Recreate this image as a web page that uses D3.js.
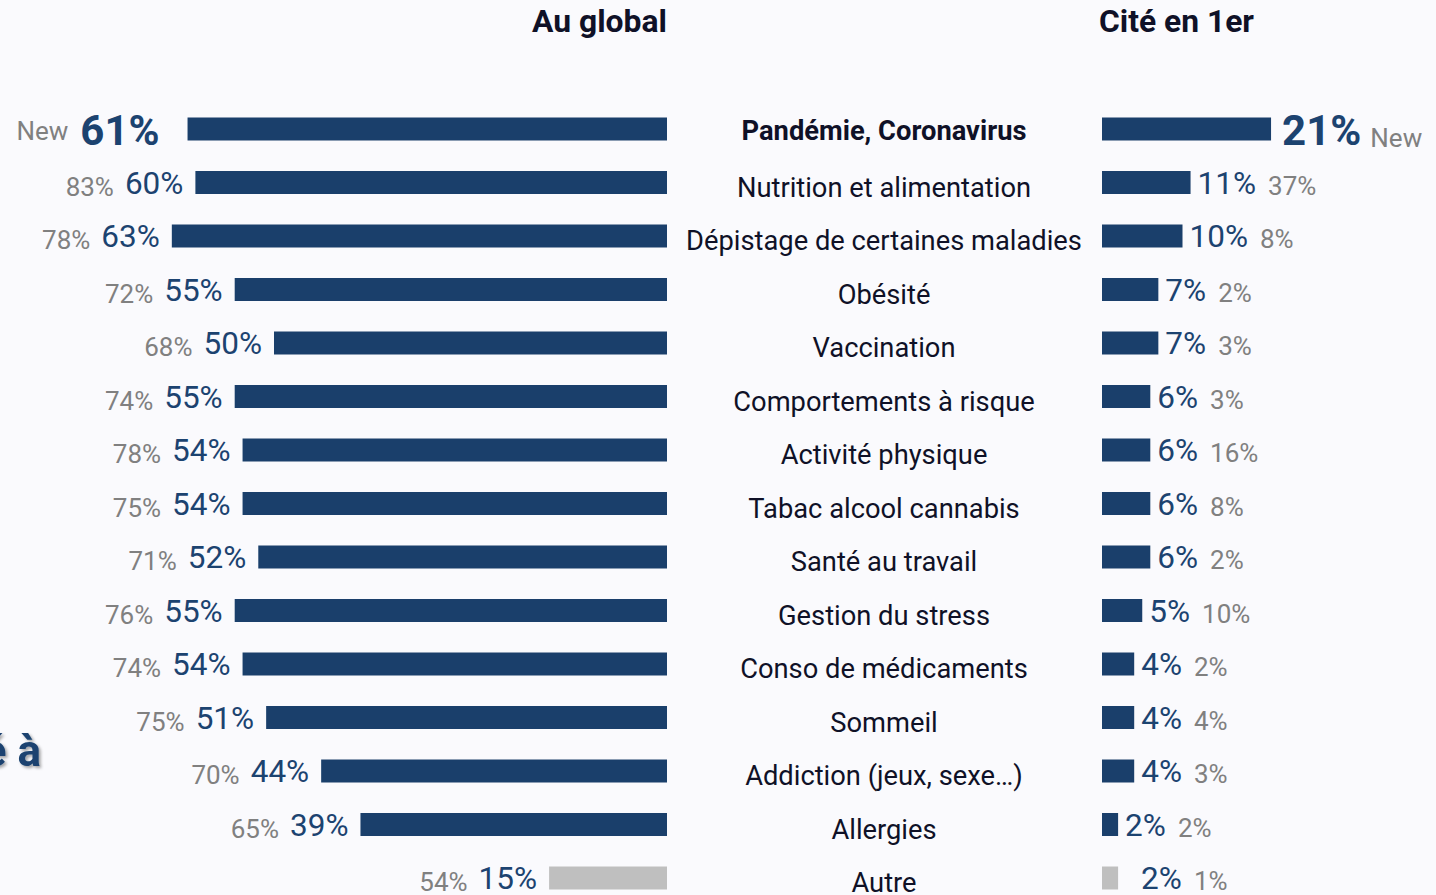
<!DOCTYPE html>
<html>
<head>
<meta charset="utf-8">
<script src="https://cdn.jsdelivr.net/npm/d3@7"></script>
<style>
  html, body { margin: 0; padding: 0; background: #fafafd; }
  svg { display: block; font-family: Roboto, "Noto Sans", sans-serif; }
</style>
</head>
<body>
<svg id="chart" width="1436" height="895"></svg>
<script>
const categories = [
  "Pandémie, Coronavirus", "Nutrition et alimentation", "Dépistage de certaines maladies",
  "Obésité", "Vaccination", "Comportements à risque", "Activité physique",
  "Tabac alcool cannabis", "Santé au travail", "Gestion du stress",
  "Conso de médicaments", "Sommeil", "Addiction (jeux, sexe…)", "Allergies", "Autre"
];
const globalValues = [61, 60, 63, 55, 50, 55, 54, 54, 52, 55, 54, 51, 44, 39, 15];
const globalPrevious = [null, 83, 78, 72, 68, 74, 78, 75, 71, 76, 74, 75, 70, 65, 54];
const firstValues = [21, 11, 10, 7, 7, 6, 6, 6, 6, 5, 4, 4, 4, 2, 2];
const firstPrevious = [null, 37, 8, 2, 3, 3, 16, 8, 2, 10, 2, 4, 3, 2, 1];
const newLabel = "New";
const titles = ["Au global", "Cité en 1er"];

const navy = "#1a3f6b";
const navyText = "#1c4370";
const grey = "#808080";
const otherBar = "#bfbfbf";
const dark = "#0f1127";

const svg = d3.select("#chart");

const y = d3.scalePoint().domain(categories).range([129, 878]);
const xLeft = d3.scaleLinear().domain([0, 100]).range([667, 667 - 786]);
const xRight = d3.scaleLinear().domain([0, 100]).range([1102, 1102 + 805]);
const barH = 23;
const isOther = (d) => d === "Autre";

// Cropped title fragment at left edge
const defs = svg.append("defs");
const f = defs.append("filter").attr("id", "shadow").attr("x", "-20%").attr("y", "-20%").attr("width", "150%").attr("height", "150%");
f.append("feDropShadow").attr("dx", 2).attr("dy", 2).attr("stdDeviation", 1.5).attr("flood-color", "#000").attr("flood-opacity", 0.35);
svg.append("text").attr("x", 41).attr("y", 766).attr("text-anchor", "end")
  .attr("font-size", 44).attr("font-weight", 700).attr("fill", navyText)
  .attr("filter", "url(#shadow)").text("é à");

// Titles
svg.append("text").attr("x", 667).attr("y", 32).attr("text-anchor", "end")
  .attr("font-size", 31).attr("font-weight", 700).attr("fill", dark)
  .attr("textLength", 135).attr("lengthAdjust", "spacingAndGlyphs").text(titles[0]);
svg.append("text").attr("x", 1099).attr("y", 32)
  .attr("font-size", 31).attr("font-weight", 700).attr("fill", dark)
  .attr("textLength", 155).attr("lengthAdjust", "spacingAndGlyphs").text(titles[1]);

// Left bars
svg.append("g").selectAll("rect").data(categories).join("rect")
  .attr("x", (d, i) => xLeft(globalValues[i]))
  .attr("y", d => y(d) - barH / 2)
  .attr("width", (d, i) => xLeft(0) - xLeft(globalValues[i]))
  .attr("height", barH)
  .attr("fill", d => isOther(d) ? otherBar : navy);

// Right bars
svg.append("g").selectAll("rect").data(categories).join("rect")
  .attr("x", xRight(0))
  .attr("y", d => y(d) - barH / 2)
  .attr("width", (d, i) => xRight(firstValues[i]) - xRight(0))
  .attr("height", barH)
  .attr("fill", d => isOther(d) ? otherBar : navy);

// Category labels
svg.append("g").selectAll("text").data(categories).join("text")
  .attr("x", 884)
  .attr("y", (d, i) => y(d) + (i === 0 ? 11 : 14))
  .attr("text-anchor", "middle")
  .attr("font-size", 27.3)
  .attr("font-weight", (d, i) => i === 0 ? 700 : 400)
  .attr("fill", dark)
  .text(d => d);

// Left value labels
categories.forEach((c, i) => {
  const big = i === 0;
  const barLeft = xLeft(globalValues[i]);
  const v = svg.append("text")
    .attr("x", barLeft - (big ? 28 : 12))
    .attr("y", y(c) + (big ? 16 : 11))
    .attr("text-anchor", "end")
    .attr("font-size", big ? 42 : 31.5)
    .attr("font-weight", big ? 700 : 400)
    .attr("fill", navyText)
    .text(globalValues[i] + "%");
  const w = v.node().getComputedTextLength();
  const prev = globalPrevious[i] == null ? newLabel : globalPrevious[i] + "%";
  svg.append("text")
    .attr("x", barLeft - (big ? 28 : 12) - w - (big ? 12 : 11))
    .attr("y", y(c) + (big ? 11 : 13))
    .attr("text-anchor", "end")
    .attr("font-size", 26)
    .attr("fill", grey)
    .text(prev);
});

// Right value labels
categories.forEach((c, i) => {
  const big = i === 0;
  const barRight = xRight(firstValues[i]);
  const gap = big ? 11 : (isOther(c) ? 23 : 7);
  const v = svg.append("text")
    .attr("x", barRight + gap)
    .attr("y", y(c) + (big ? 16 : 11))
    .attr("font-size", big ? 42 : 31.5)
    .attr("font-weight", big ? 700 : 400)
    .attr("fill", navyText)
    .text(firstValues[i] + "%");
  const w = v.node().getComputedTextLength();
  const prev = firstPrevious[i] == null ? newLabel : firstPrevious[i] + "%";
  svg.append("text")
    .attr("x", barRight + gap + w + (big ? 9 : 12))
    .attr("y", y(c) + (big ? 18 : 12))
    .attr("font-size", 26)
    .attr("fill", grey)
    .text(prev);
});
</script>
</body>
</html>
